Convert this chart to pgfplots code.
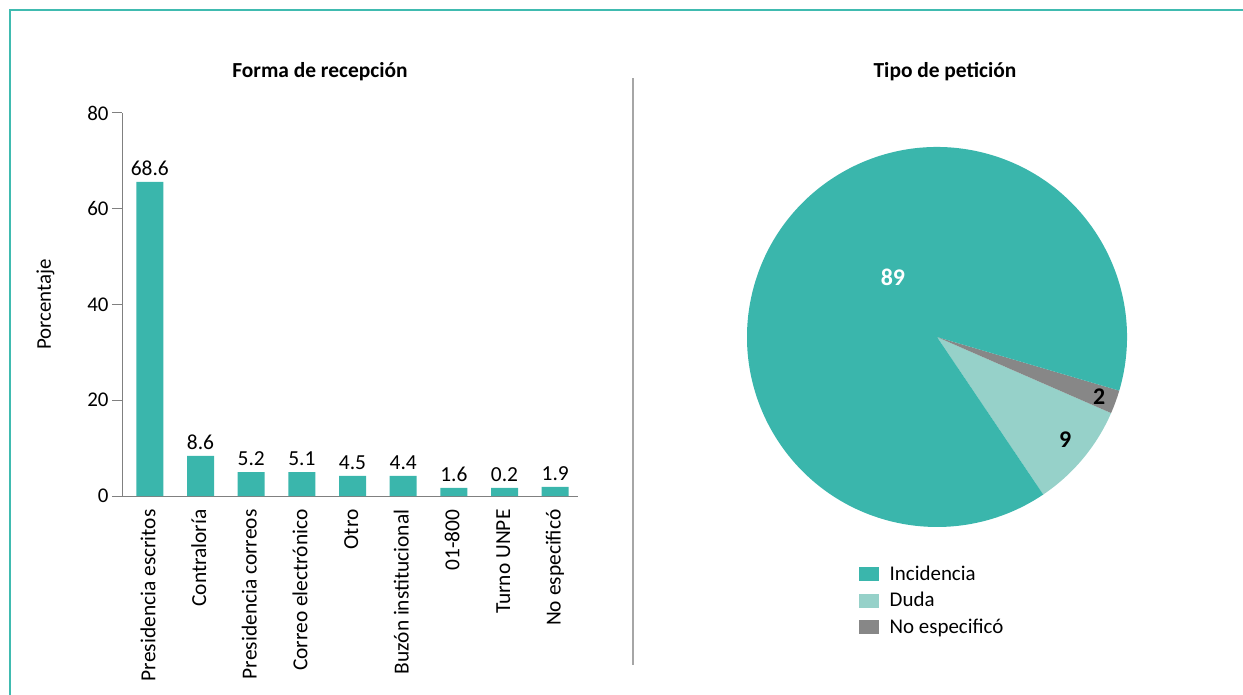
\documentclass[border=0pt]{standalone}
\usepackage{pgfplots}
\usepackage{pgfplotstable}
\pgfplotsset{compat=1.18}
\usepackage{fontspec}
\setmainfont{Carlito}

\definecolor{teal1}{RGB}{58,182,172}
\definecolor{teal2}{RGB}{150,209,201}
\definecolor{gris}{RGB}{135,135,135}
\definecolor{ejes}{RGB}{128,128,128}
\definecolor{marco}{RGB}{64,187,176}

% bar heights as drawn, label as printed
\pgfplotstableread{
x y label
0 65.6 68.6
1 8.4 8.6
2 5.0 5.2
3 5.0 5.1
4 4.2 4.5
5 4.2 4.4
6 1.7 1.6
7 1.7 0.2
8 1.9 1.9
}\recepcion

\begin{document}
\begin{tikzpicture}
\useasboundingbox (0,0) rectangle (1243bp,695bp);
% frame
\draw[marco, line width=2.2bp] (10bp,0) -- (10bp,685bp) -- (1243bp,685bp);
% divider
\draw[black!35, line width=1.5bp] (633bp,30bp) -- (633bp,617bp);

\node[font=\fontsize{21.5}{25}\selectfont\bfseries] at (320bp,623bp) {Forma de recepción};
\node[font=\fontsize{21.5}{25}\selectfont\bfseries] at (945bp,623bp) {Tipo de petición};

\begin{axis}[
  at={(122bp,199bp)}, anchor=south west,
  scale only axis, width=456bp, height=383bp,
  ybar, bar width=27bp,
  xmin=-0.55, xmax=8.45, ymin=0, ymax=80,
  axis x line=bottom, axis y line=left,
  axis line style={ejes, line width=1bp, -},
  xtick=data,
  xticklabels={Presidencia escritos, Contraloría, Presidencia correos, Correo electrónico, Otro, Buzón institucional, 01-800, Turno UNPE, No especificó},
  x tick style={draw=none},
  ytick={0,20,40,60,80},
  y tick style={ejes, line width=1bp},
  tick align=outside, major tick length=10bp,
  ticklabel style={font=\fontsize{21}{24}\selectfont},
  /pgf/number format/assume math mode=true,
  xticklabel style={font=\fontsize{21.5}{25}\selectfont, xshift=5.5bp, yshift=0bp, rotate=90, anchor=base east},
  ylabel={Porcentaje},
  ylabel style={font=\fontsize{21}{24}\selectfont, at={(axis description cs:-0.168,0.5)}, anchor=center, rotate=0},
  nodes near coords={\pgfplotspointmeta},
  every node near coord/.append style={font=\fontsize{21.5}{25}\selectfont, black, yshift=2.5bp},
]
\addplot[fill=teal1, draw=none, point meta=explicit symbolic] table[x=x, y=y, meta=label] {\recepcion};
\end{axis}

\begin{axis}[
  at={(937bp,358bp)}, anchor=center,
  scale only axis, width=380bp, height=380bp,
  xmin=-1, xmax=1, ymin=-1, ymax=1,
  hide axis,
  legend style={at={(axis description cs:0.295,-0.096)}, anchor=north west, draw=none,
    font=\fontsize{21}{24}\selectfont, row sep=6.5bp, column sep=9bp, inner sep=0pt,
    nodes={inner sep=2bp}},
  legend cell align=left,
  legend image code/.code={\fill[#1] (0bp,-6.5bp) rectangle (19bp,6.5bp);},
]
\addlegendimage{teal1}
\addlegendentry{Incidencia}
\addlegendimage{teal2}
\addlegendentry{Duda}
\addlegendimage{gris}
\addlegendentry{No especificó}
% slices counter-clockwise from -56 deg: Duda, No especificó, Incidencia
\def\inicio{-56}
\foreach \val/\col in {9/teal2, 2/gris, 89/teal1} {
  \pgfmathsetmacro\fin{\inicio+3.6*\val}
  \edef\rebanada{\noexpand\fill[\col] (axis cs:0,0) -- (axis cs:{cos(\inicio)},{sin(\inicio)})
     arc[start angle=\inicio, end angle=\fin, radius=190bp] -- cycle;}
  \rebanada
  \global\let\inicio\fin
}
\node[white, font=\fontsize{24}{28}\selectfont\bfseries] at (axis cs:-0.232,0.316) {89};
\node[black, font=\fontsize{24}{28}\selectfont\bfseries] at (axis cs:0.674,-0.542) {9};
\node[black, font=\fontsize{24}{28}\selectfont\bfseries] at (axis cs:0.853,-0.316) {2};
\end{axis}
\end{tikzpicture}
\end{document}
